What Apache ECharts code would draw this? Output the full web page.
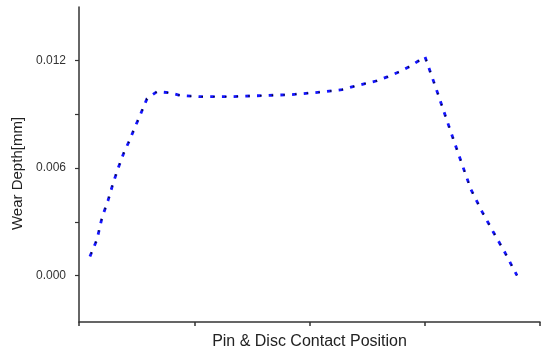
<!DOCTYPE html>
<html>
<head>
<meta charset="utf-8">
<script src="https://cdn.jsdelivr.net/npm/echarts@6/dist/echarts.min.js"></script>
<style>html,body{margin:0;padding:0;background:#fff}#c{width:542px;height:352px}</style>
</head>
<body>
<div id="c"></div>
<script>
// Contact position along the pin/disc track (axis units 0..4)
const positions = [0.095, 0.156, 0.2, 0.252, 0.295, 0.338, 0.39, 0.434, 0.495, 0.529, 0.59,
  0.677, 0.781, 0.885, 1.05, 1.31, 1.588, 1.831, 2.091, 2.282, 2.377, 2.482, 2.586, 2.681,
  2.785, 2.881, 3.002, 3.089, 3.193, 3.297, 3.401, 3.497, 3.592, 3.696, 3.8];
// Wear depth in mm
const wearDepth = [0.00106, 0.00201, 0.00324, 0.00419, 0.00513, 0.00597, 0.00687, 0.00748, 0.00843,
  0.00893, 0.00988, 0.01027, 0.01021, 0.01005, 0.00999, 0.00999, 0.01005, 0.0101, 0.01024, 0.01038,
  0.01055, 0.01072, 0.01088, 0.01111, 0.01139, 0.01172, 0.01222, 0.01062, 0.00865, 0.0067, 0.0048,
  0.00357, 0.00246, 0.00128, 0.0];
const yTicks = [0, 0.003, 0.006, 0.009, 0.012];
const yLabels = [0, 0.006, 0.012];
const xTicks = [0, 1, 2, 3, 4];

const points = positions.map((x, i) => [x, wearDepth[i]]);
const font = 'Liberation Sans, Arial, sans-serif';

const chart = echarts.init(document.getElementById('c'), null, { renderer: 'canvas' });
chart.setOption({
  animation: false,
  grid: { left: 79, top: 7, right: 2, bottom: 30, outerBoundsMode: 'none', containLabel: false },
  xAxis: {
    type: 'value', min: 0, max: 4, interval: 1,
    name: 'Pin & Disc Contact Position', nameLocation: 'middle', nameGap: 12,
    nameTextStyle: { fontFamily: font, fontSize: 16, color: '#222' },
    axisLine: { onZero: false, lineStyle: { color: '#333', width: 1.5 } },
    axisTick: { show: true, length: 4, inside: false, customValues: xTicks, lineStyle: { color: '#333', width: 1.5 } },
    axisLabel: { show: false },
    splitLine: { show: false }
  },
  yAxis: {
    type: 'value', min: -0.0026, max: 0.015,
    name: 'Wear Depth[mm]', nameLocation: 'middle', nameGap: 52,
    nameTextStyle: { fontFamily: font, fontSize: 15, color: '#222', padding: [0, 18, 0, 0] },
    axisLine: { show: true, onZero: false, lineStyle: { color: '#333', width: 1.5 } },
    axisTick: { show: true, length: 4, customValues: yTicks, lineStyle: { color: '#333', width: 1.2 } },
    axisLabel: { customValues: yLabels, fontFamily: font, fontSize: 12, color: '#333', margin: 13,
      formatter: v => v.toFixed(3) },
    splitLine: { show: false }
  },
  series: [
    {
      type: 'line', data: points, showSymbol: false, smooth: false,
      lineStyle: { color: '#1414ff', width: 2.8, type: [4.5, 7.2] }
    },
    {
      type: 'line', data: points, showSymbol: false, smooth: false,
      lineStyle: { color: '#111', width: 1.4, type: [1.5, 10.2], dashOffset: -3 }
    }
  ]
});
</script>
</body>
</html>
